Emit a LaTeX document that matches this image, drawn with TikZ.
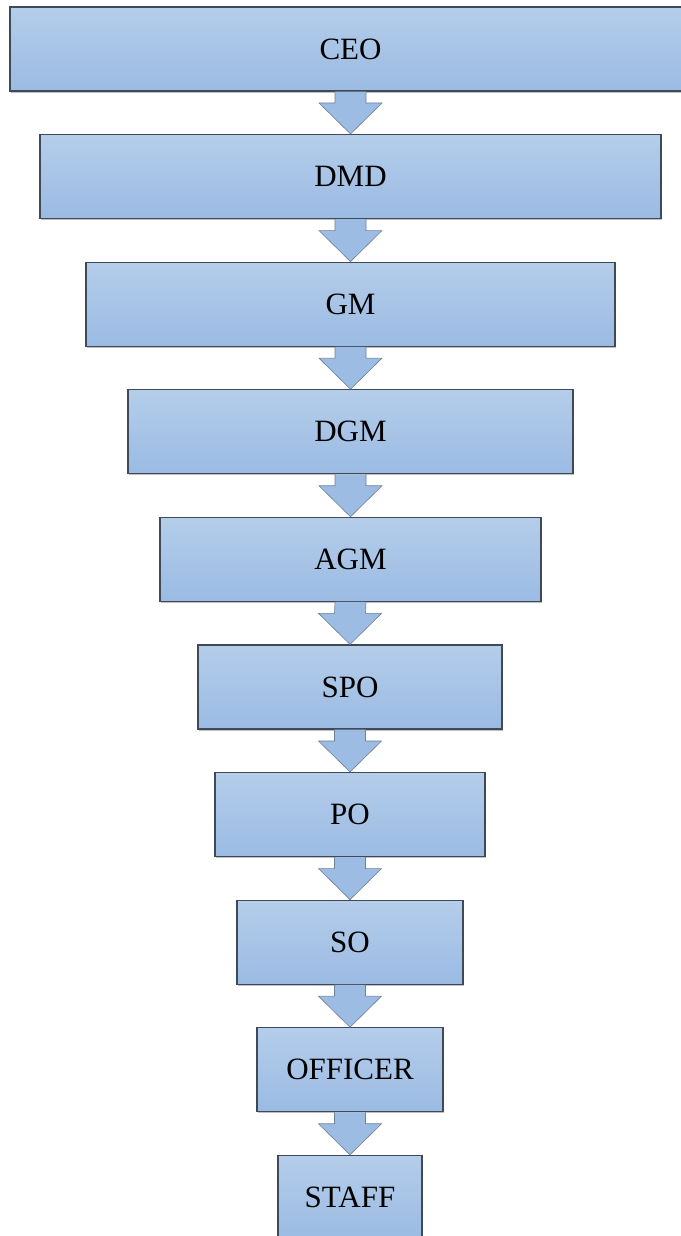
\documentclass[tikz,border=0pt]{standalone}
\usepackage{fontspec}
\setmainfont{Liberation Serif}
\usetikzlibrary{calc, shadows}

\definecolor{boxtop}{HTML}{B4CDEA}
\definecolor{boxbottom}{HTML}{9BBBE3}
\definecolor{boxline}{HTML}{3F4957}
\definecolor{arrowfill}{HTML}{9DBCE4}
\definecolor{arrowline}{HTML}{6F7F95}

\begin{document}
\begin{tikzpicture}[x=1pt, y=1pt,
  rank/.style={draw=boxline, line width=1.2pt, top color=boxtop, bottom color=boxbottom,
    minimum height=84pt, inner sep=0pt, font=\fontsize{31}{36}\selectfont,
    drop shadow={shadow xshift=0.6pt, shadow yshift=-1.6pt, fill=black, opacity=0.25}},
  down/.style={draw=arrowline, fill=arrowfill, line width=0.6pt, line join=miter,
    to path={($(\tikztostart)+(-15.5,0)$) -- ($(\tikztotarget)+(-15.5,31)$)
      -- ($(\tikztotarget)+(-31.5,31)$) -- (\tikztotarget)
      -- ($(\tikztotarget)+(31.5,31)$) -- ($(\tikztotarget)+(15.5,31)$)
      -- ($(\tikztostart)+(15.5,0)$)}}]

\useasboundingbox (0,0) rectangle (680,1236);

% Ranks
\node[rank, minimum width=681pt] (ceo) at (350.5, 1187) {CEO};
\node[rank, minimum width=621pt] (dmd) at (350.5, 1059.4) {DMD};
\node[rank, minimum width=529pt] (gm) at (350.5, 931.8) {GM};
\node[rank, minimum width=445pt] (dgm) at (350.5, 804.2) {DGM};
\node[rank, minimum width=381pt] (agm) at (350.5, 676.6) {AGM};
\node[rank, minimum width=304pt] (spo) at (350, 549) {SPO};
\node[rank, minimum width=270pt] (po) at (350, 421.4) {PO};
\node[rank, minimum width=226pt] (so) at (350, 293.8) {SO};
\node[rank, minimum width=186pt] (officer) at (350, 166.2) {OFFICER};
\node[rank, minimum width=144pt] (staff) at (350, 38.6) {STAFF};

% Block arrows
\draw[down] (ceo.south) to (dmd.north);
\draw[down] (dmd.south) to (gm.north);
\draw[down] (gm.south) to (dgm.north);
\draw[down] (dgm.south) to (agm.north);
\draw[down] (agm.south) to (spo.north);
\draw[down] (spo.south) to (po.north);
\draw[down] (po.south) to (so.north);
\draw[down] (so.south) to (officer.north);
\draw[down] (officer.south) to (staff.north);

\end{tikzpicture}
\end{document}
